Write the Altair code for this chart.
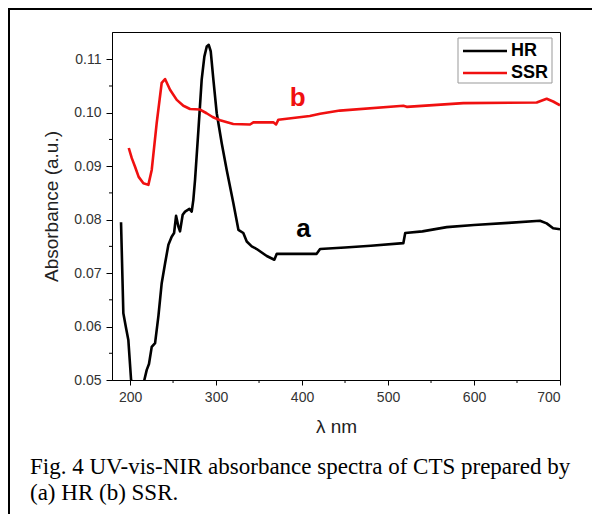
import altair as alt
import pandas as pd

# ---- data ----
hr_x = [189.5, 192.2, 195.0, 198.0, 201.2, 205.0, 210.0, 214.0, 216.6, 219.4, 222.0, 225.2, 229.1,
        233.0, 236.8, 240.7, 244.6, 248.4, 251.2, 253.5, 256.2, 258.1, 261.2, 264.0, 269.0, 271.7,
        273.6, 275.6, 279.5, 283.3, 286.4, 289.2, 291.5, 293.8, 296.9, 300.8, 306.6, 312.4, 320.1,
        326.0, 331.7, 335.7, 341.5, 347.3, 359.0, 367.8, 370.6, 400.0, 417.0, 421.0, 450.0, 480.0,
        517.8, 520.0, 540.0, 568.3, 600.0, 640.0, 676.7, 684.5, 692.0, 700.0]
hr_y = [0.0795, 0.0625, 0.0600, 0.0575, 0.0500, 0.0440, 0.0420, 0.0450, 0.0500, 0.0519, 0.0530, 0.0562, 0.0569,
        0.0620, 0.0681, 0.0718, 0.0753, 0.0768, 0.0775, 0.0807, 0.0787, 0.0778, 0.0809, 0.0815, 0.0820, 0.0815,
        0.0837, 0.0875, 0.0968, 0.1062, 0.1105, 0.1124, 0.1127, 0.1115, 0.1062, 0.0999, 0.0943, 0.0893, 0.0831,
        0.0781, 0.0775, 0.0759, 0.0750, 0.0745, 0.0732, 0.0725, 0.0736, 0.0736, 0.0736, 0.0745, 0.0748, 0.0751,
        0.0756, 0.0775, 0.0778, 0.0786, 0.0790, 0.0794, 0.0798, 0.0793, 0.0784, 0.0782]

ssr_x = [198.5, 202.0, 205.8, 210.0, 215.5, 221.3, 225.2, 231.0, 236.8, 240.7, 246.5, 254.3, 262.0,
         269.8, 281.4, 289.0, 296.0, 304.7, 320.0, 339.5, 343.4, 366.6, 369.8, 372.5, 409.0, 421.0,
         444.0, 517.8, 521.7, 587.6, 672.9, 684.5, 692.0, 700.0]
ssr_y = [0.0934, 0.0915, 0.0899, 0.0880, 0.0868, 0.0865, 0.0893, 0.0981, 0.1056, 0.1063, 0.1043, 0.1024, 0.1013,
         0.1007, 0.1006, 0.0999, 0.0992, 0.0986, 0.0979, 0.0978, 0.0982, 0.0982, 0.0978, 0.0987, 0.0994, 0.0998,
         0.1004, 0.1013, 0.1011, 0.1018, 0.1019, 0.1026, 0.1021, 0.1014]

series = ["HR", "SSR"]
colors = ["#000000", "#f01010"]

x_ticks = [200, 300, 400, 500, 600, 700]
x_minor = [250, 350, 450, 550, 650]
y_ticks = [0.05, 0.06, 0.07, 0.08, 0.09, 0.10, 0.11]
y_minor = [0.055, 0.065, 0.075, 0.085, 0.095, 0.105]

ann_labels = ["b", "a"]
ann_x = [394.8, 401.7]
ann_y = [0.1013, 0.0768]
ann_colors = ["#f01010", "#000000"]

caption = ["Fig. 4 UV-vis-NIR absorbance spectra of CTS prepared by", "(a) HR (b) SSR."]

# ---- build ----
W, H = 448, 348
df = pd.concat([
    pd.DataFrame({"x": hr_x, "y": hr_y, "s": "HR"}),
    pd.DataFrame({"x": ssr_x, "y": ssr_y, "s": "SSR"}),
])

xs = alt.Scale(domain=[179, 700], nice=False, zero=False)
ys = alt.Scale(domain=[0.05, 0.1151], nice=False, zero=False)
FONT = "Liberation Sans"

lines = alt.Chart(df).mark_line(strokeWidth=2.6, clip=True, strokeJoin="round").encode(
    x=alt.X("x:Q", scale=xs, axis=alt.Axis(values=x_ticks, format="d", title="λ nm", grid=False,
                                           tickSize=5, labelPadding=5, titlePadding=13)),
    y=alt.Y("y:Q", scale=ys, axis=alt.Axis(values=y_ticks, format=".2f", title="Absorbance (a.u.)",
                                           grid=False, tickSize=6, labelPadding=5, titlePadding=12)),
    color=alt.Color("s:N", scale=alt.Scale(domain=series, range=colors), legend=None),
    detail="s:N",
)

xminor = alt.Chart(pd.DataFrame({"x": x_minor})).mark_rule(color="black", strokeWidth=1).encode(
    x=alt.X("x:Q", scale=xs), y=alt.value(H), y2=alt.value(H + 3))
yminor = alt.Chart(pd.DataFrame({"y": y_minor})).mark_rule(color="black", strokeWidth=1).encode(
    y=alt.Y("y:Q", scale=ys), x=alt.value(0), x2=alt.value(-3))

ann = alt.Chart(pd.DataFrame({"x": ann_x, "y": ann_y, "t": ann_labels, "c": ann_colors})).mark_text(
    font=FONT, fontSize=26, fontWeight="bold", align="center", baseline="alphabetic").encode(
    x=alt.X("x:Q", scale=xs), y=alt.Y("y:Q", scale=ys), text="t:N",
    color=alt.Color("c:N", scale=None))

# legend (drawn manually)
leg_box = alt.Chart(pd.DataFrame({"a": [0]})).mark_rect(fill="white", stroke="#999999", strokeWidth=1).encode(
    x=alt.value(346), x2=alt.value(440), y=alt.value(6), y2=alt.value(51))
leg_df = pd.DataFrame({"s": series, "yy": [19, 41]})
leg_lines = alt.Chart(leg_df).mark_rule(strokeWidth=2.6).encode(
    x=alt.value(351), x2=alt.value(395), y=alt.Y("yy:Q", scale=None),
    color=alt.Color("s:N", scale=alt.Scale(domain=series, range=colors), legend=None))
leg_text = alt.Chart(leg_df).mark_text(font=FONT, fontSize=18, fontWeight="bold", align="left",
                                       baseline="middle", color="black").encode(
    x=alt.value(399), y=alt.Y("yy:Q", scale=None), text="s:N")

# outer frame lines
frame_left = alt.Chart(pd.DataFrame({"a": [0]})).mark_rule(color="black", strokeWidth=2).encode(
    x=alt.value(-103), y=alt.value(-23), y2=alt.value(490))
frame_top = alt.Chart(pd.DataFrame({"a": [0]})).mark_rule(color="black", strokeWidth=2).encode(
    x=alt.value(-104), x2=alt.value(490), y=alt.value(-23))

cap_df = pd.DataFrame({"t": caption, "yy": [435, 461]})
cap = alt.Chart(cap_df).mark_text(font="Liberation Serif", fontSize=23, align="left",
                                  baseline="middle", color="black").encode(
    x=alt.value(-82), y=alt.Y("yy:Q", scale=None), text="t:N")

chart = alt.layer(lines, xminor, yminor, ann, leg_box, leg_lines, leg_text, frame_left, frame_top, cap).properties(
    width=W, height=H,
    autosize=alt.AutoSizeParams(type="none"),
    padding={"left": 104, "top": 24, "right": 32, "bottom": 134},
    background="white",
).configure_view(stroke="black", strokeWidth=1).configure_axis(
    labelFont=FONT, labelFontSize=14, labelColor="#333333", titleFont=FONT, titleFontSize=19,
    titleFontWeight="normal", titleColor="#222222", domainColor="black", tickColor="black",
    domainWidth=1, tickWidth=1,
)

chart.save("out.html", embed_options={"renderer": "svg", "actions": False})
